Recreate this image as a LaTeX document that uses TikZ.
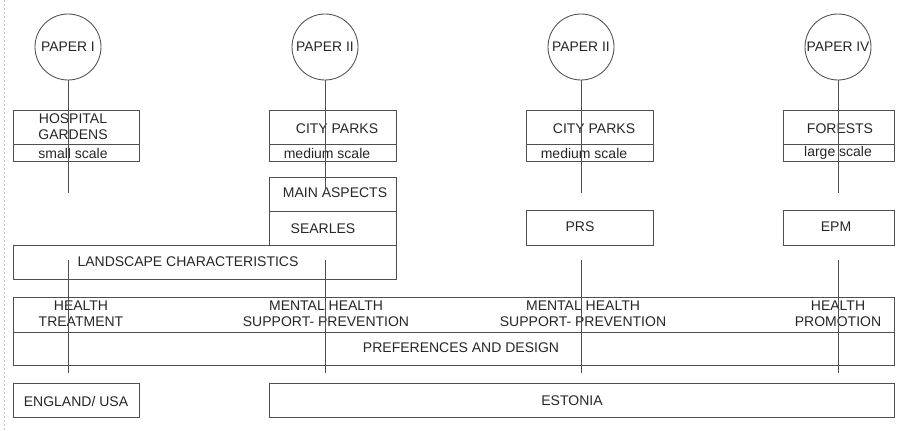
\documentclass[tikz,border=0pt]{standalone}
\usepackage{fontspec}
\setmainfont{Liberation Sans}
\definecolor{lngray}{RGB}{80,80,80}
\definecolor{txtgray}{RGB}{38,38,38}
\tikzset{
  frame/.style={draw=lngray, line width=0.65pt},
  paper/.style={circle, draw=lngray, line width=0.65pt, minimum size=49.5pt, inner sep=0pt, text=txtgray, font=\fontsize{10.4}{11}\selectfont},
  lbl/.style={inner sep=0.75pt, text=txtgray, align=center, font=\fontsize{10.5}{12.2}\selectfont},
}
\begin{document}
\begin{tikzpicture}[x=0.75pt,y=0.75pt,yscale=-1,xscale=1]
\useasboundingbox (0,0) rectangle (909,431);
%left edge
\draw [color={rgb, 255:red, 200; green, 200; blue, 200 }, dash pattern={on 1.5pt off 1.5pt}] (4,0) -- (4,431);

%Shape: Circle
\node [paper] (p1) at (68,47) {PAPER I};
\node [paper] (p2) at (325,47) {PAPER II};
\node [paper] (p3) at (581,47) {PAPER II};
\node [paper] (p4) at (838,47) {PAPER IV};

%Shape: Rectangle
\draw [frame] (13,110) rectangle (139,161) ; \draw [frame] (13,144) -- (139,144) ;
\draw [frame] (269,110) rectangle (396,161) ; \draw [frame] (269,144) -- (396,144) ;
\draw [frame] (526,110) rectangle (653,161) ; \draw [frame] (526,144) -- (653,144) ;
\draw [frame] (783,110) rectangle (894,161) ; \draw [frame] (783,144) -- (894,144) ;
%Shape: Rectangle
\draw [frame] (269,177) rectangle (396,245) ; \draw [frame] (269,211) -- (396,211) ;
\draw [frame] (526,210) rectangle (653,245) ;
\draw [frame] (783,210) rectangle (894,245) ;
\draw [frame] (13,245) rectangle (396,279) ;
%Shape: Rectangle
\draw [frame] (13,297) rectangle (894,365) ; \draw [frame] (13,332) -- (894,332) ;
\draw [frame] (13,383) rectangle (139,417) ;
\draw [frame] (269,383) rectangle (894,417) ;

% Text Node
\node [lbl] (hg) at (73,127) {HOSPITAL\\GARDENS};
\node [lbl] (hgs) at (73,153) {small scale};
\node [lbl] (cp2) at (337,129) {CITY PARKS};
\node [lbl] (cp2s) at (327,153) {medium scale};
\node [lbl] (cp3) at (594,129) {CITY PARKS};
\node [lbl] (cp3s) at (584,153) {medium scale};
\node [lbl] (fo) at (840,129) {FORESTS};
\node [lbl] (fos) at (838,153) {large scale};
% Text Node
\node [lbl] (ma) at (335,193) {MAIN ASPECTS};
\node [lbl] (se) at (323,229) {SEARLES};
\node [lbl] (prs) at (580,227) {PRS};
\node [lbl] (epm) at (836,227) {EPM};
\node [lbl] (lc) at (188,262) {LANDSCAPE CHARACTERISTICS};
% Text Node
\node [lbl] (ht) at (81,314) {HEALTH\\TREATMENT};
\node [lbl] (mh2) at (326,314) {MENTAL HEALTH\\SUPPORT- PREVENTION};
\node [lbl] (mh3) at (583,314) {MENTAL HEALTH\\SUPPORT- PREVENTION};
\node [lbl] (hp) at (838,314) {HEALTH\\PROMOTION};
\node [lbl] (pd) at (461,348) {PREFERENCES AND DESIGN};
\node [lbl] (eu) at (76,401) {ENGLAND/ USA};
\node [lbl] (es) at (572,401) {ESTONIA};

%Straight Lines
\coordinate (a1) at (68,193); \coordinate (a2) at (325,190);
\coordinate (a3) at (581,193); \coordinate (a4) at (838,193);
\draw [frame] (p1.south) -- (a1) ;
\draw [frame] (p2.south) -- (a2) ;
\draw [frame] (p3.south) -- (a3) ;
\draw [frame] (p4.south) -- (a4) ;
\foreach \i/\x in {1/68,2/325,3/581,4/838}{
  \coordinate (b\i) at (\x,260); \coordinate (c\i) at (\x,373);
  \draw [frame] (b\i) -- (c\i) ;
}

\end{tikzpicture}
\end{document}
